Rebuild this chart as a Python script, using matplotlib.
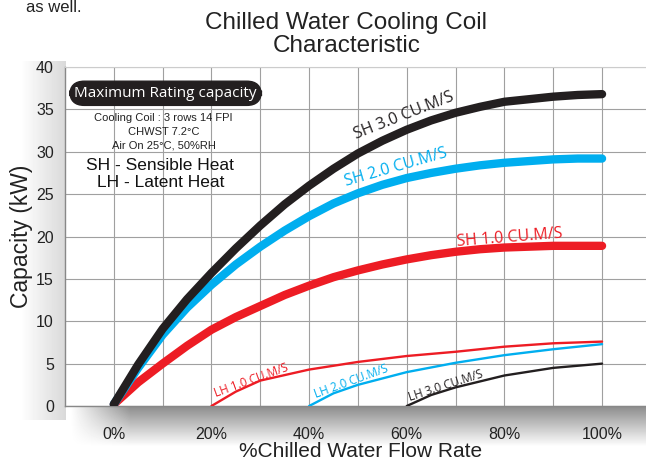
import numpy as np
import matplotlib
matplotlib.use("Agg")
import matplotlib.pyplot as plt

# --- data (capacity in kW vs % chilled water flow) ---
flow_pct = [0, 5, 10, 15, 20, 25, 30, 35, 40, 45, 50, 55, 60, 65, 70, 75, 80, 85, 90, 95, 100]
sh_3 = [0.2, 4.9, 9.1, 12.6, 15.7, 18.6, 21.3, 23.8, 26.0, 28.0, 29.8, 31.3, 32.6,
        33.7, 34.6, 35.3, 35.9, 36.2, 36.5, 36.7, 36.8]
sh_2 = [0.2, 4.5, 8.4, 11.6, 14.3, 16.7, 18.8, 20.7, 22.4, 23.9, 25.1, 26.1, 26.9,
        27.5, 28.0, 28.4, 28.7, 28.9, 29.1, 29.2, 29.2]
sh_1 = [0.2, 2.8, 5.0, 7.1, 9.0, 10.5, 11.8, 13.1, 14.2, 15.2, 16.0, 16.7, 17.3,
        17.8, 18.2, 18.5, 18.7, 18.8, 18.9, 18.9, 18.9]

lh1_x = [20, 25, 30, 40, 50, 60, 70, 80, 90, 100]
lh1_y = [0, 1.7, 3.0, 4.3, 5.2, 5.9, 6.4, 7.0, 7.4, 7.6]
lh2_x = [40, 45, 50, 60, 70, 80, 90, 100]
lh2_y = [0, 1.5, 2.5, 4.0, 5.1, 6.0, 6.7, 7.3]
lh3_x = [60, 65, 70, 80, 90, 100]
lh3_y = [0, 1.3, 2.2, 3.6, 4.5, 5.0]

x_ticks = [0, 20, 40, 60, 80, 100]
x_ticklabels = ['0%', '20%', '40%', '60%', '80%', '100%']
y_ticks = [0, 5, 10, 15, 20, 25, 30, 35, 40]

BLACK = '#231f20'
BLUE = '#00aeef'
RED = '#ed1c24'
TXT = '#222222'

plt.rcParams['font.family'] = ['Liberation Sans', 'DejaVu Sans']

fig = plt.figure(figsize=(6.46, 4.67), dpi=100)
fig.patch.set_facecolor('white')

# soft grey shadow around the plot (screenshot look)
bg = fig.add_axes([0, 0, 1, 1], zorder=-5)
bg.set_axis_off()
h, w = 467, 646
yy, xx = np.mgrid[0:h, 0:w]
shade = np.zeros((h, w))
band = np.clip(1 - (yy - 406) / 40.0, 0, 1) * (yy >= 406)
shade += band * 0.45 * np.clip((xx - 70) / 60.0, 0, 1)
left = np.clip(1 - (65 - xx) / 45.0, 0, 1) * (xx <= 65) * (yy > 60) * (yy < 420)
shade += left * 0.15
shade = np.clip(shade, 0, 0.6)
bg.imshow(1 - shade, cmap='gray', vmin=0, vmax=1, extent=[0, 1, 0, 1],
          aspect='auto', interpolation='bilinear')

ax = fig.add_axes([0.1006, 0.1306, 0.8994, 0.7259])
ax.set_facecolor('white')
ax.set_xlim(-10, 109)
ax.set_ylim(0, 40)

ax.set_xticks(x_ticks)
ax.set_xticklabels(x_ticklabels)
ax.set_xticks(np.arange(10, 101, 20), minor=True)
ax.set_yticks(y_ticks)
ax.grid(True, color='#a0a0a0', linewidth=0.8)
ax.grid(True, which='minor', axis='x', color='#a0a0a0', linewidth=0.8)
ax.tick_params(axis='both', which='both', length=0, labelsize=11.5, colors=TXT)
ax.tick_params(axis='x', pad=15)
ax.tick_params(axis='y', pad=8)
ax.set_axisbelow(True)
for s in ['left', 'bottom']:
    ax.spines[s].set_color('#888888')
    ax.spines[s].set_linewidth(1.0)
ax.spines['top'].set_color('#cccccc')
ax.spines['right'].set_visible(False)

# sensible heat curves
ax.plot(flow_pct, sh_1, color=RED, lw=6, solid_capstyle='round', solid_joinstyle='round', zorder=3)
ax.plot(flow_pct, sh_2, color=BLUE, lw=6, solid_capstyle='round', solid_joinstyle='round', zorder=4)
ax.plot(flow_pct, sh_3, color=BLACK, lw=6, solid_capstyle='round', solid_joinstyle='round', zorder=5)

# latent heat curves
ax.plot(lh1_x, lh1_y, color=RED, lw=1.7, solid_capstyle='round', zorder=3)
ax.plot(lh2_x, lh2_y, color=BLUE, lw=1.7, solid_capstyle='round', zorder=3)
ax.plot(lh3_x, lh3_y, color=BLACK, lw=1.7, solid_capstyle='round', zorder=3)

lab = dict(family=['Open Sans', 'DejaVu Sans'], ha='center', va='center',
           rotation_mode='anchor', zorder=6)
ax.text(59.5, 34.2, 'SH 3.0 CU.M/S', color=BLACK, fontsize=11.5, rotation=21.5, **lab)
ax.text(57.8, 28.1, 'SH 2.0 CU.M/S', color=BLUE, fontsize=11.5, rotation=16, **lab)
ax.text(81.0, 19.9, 'SH 1.0 CU.M/S', color=RED, fontsize=11.5, rotation=4.5, **lab)
ax.text(28.1, 3.0, 'LH 1.0 CU.M/S', color=RED, fontsize=8.5, rotation=20, **lab)
ax.text(48.7, 2.9, 'LH 2.0 CU.M/S', color=BLUE, fontsize=8.5, rotation=20, **lab)
ax.text(68.0, 2.4, 'LH 3.0 CU.M/S', color=BLACK, fontsize=8.5, rotation=18, **lab)

# info box
ax.text(10.6, 36.9, 'Maximum Rating capacity', color='white', fontsize=11,
        family=['Open Sans', 'DejaVu Sans'], ha='center', va='center', zorder=6,
        bbox=dict(boxstyle='round,pad=0.3,rounding_size=0.95', fc=BLACK, ec=BLACK))
ax.text(10.2, 34.0, 'Cooling Coil : 3 rows 14 FPI', fontsize=8, ha='center', va='center', color=TXT)
ax.text(10.2, 32.35, 'CHWST 7.2°C', fontsize=8, ha='center', va='center', color=TXT)
ax.text(10.2, 30.75, 'Air On 25°C, 50%RH', fontsize=8, ha='center', va='center', color=TXT)
ax.text(9.4, 28.4, 'SH - Sensible Heat', fontsize=12.5, ha='center', va='center', color='#111111')
ax.text(9.6, 26.4, 'LH - Latent Heat', fontsize=12.5, ha='center', va='center', color='#111111')

ax.set_ylabel('Capacity (kW)', fontsize=16.5, color=TXT, labelpad=2)
ax.set_xlabel('%Chilled Water Flow Rate', fontsize=15, color=TXT, labelpad=0)
ax.xaxis.set_label_coords(0.508, -0.105)

fig.text(0.536, 0.951, 'Chilled Water Cooling Coil', fontsize=17.5, ha='center', va='center', color=TXT)
fig.text(0.536, 0.902, 'Characteristic', fontsize=17.5, ha='center', va='center', color=TXT)
fig.text(0.04, 1.0, 'as well.', fontsize=12, ha='left', va='top', color=TXT)

fig.savefig('out.png', dpi=100, facecolor=fig.get_facecolor())
